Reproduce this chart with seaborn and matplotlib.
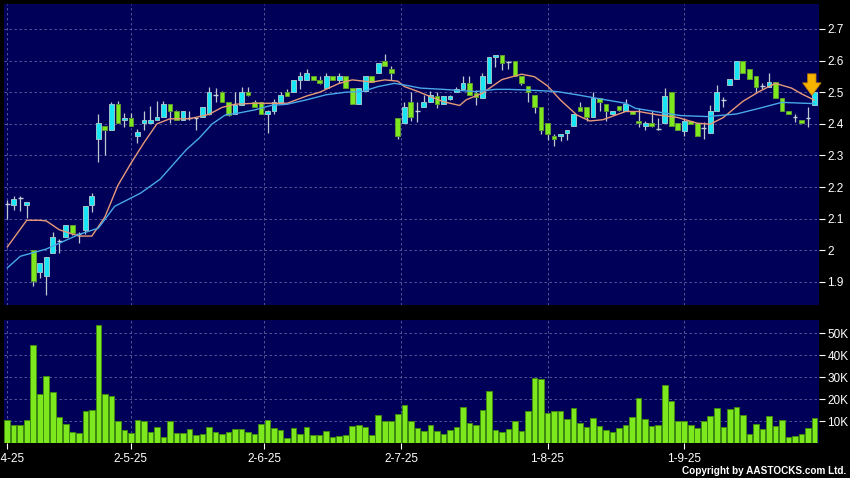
import numpy as np
import pandas as pd
import matplotlib
matplotlib.use("Agg")
import matplotlib.pyplot as plt
import seaborn as sns

# daily candles (index = trading day)
opens = [2.145, 2.142, 2.165, 2.142, 2.000, 1.930, 1.920, 1.991, 2.030, 2.041,
         2.081, 2.050, 2.065, 2.143, 2.352, 2.392, 2.381, 2.462, 2.412, 2.420,
         2.363, 2.402, 2.402, 2.412, 2.422, 2.462, 2.439, 2.412, 2.418, 2.420,
         2.422, 2.430, 2.490, 2.500, 2.470, 2.430, 2.460, 2.500, 2.468, 2.468,
         2.430, 2.439, 2.470, 2.500, 2.500, 2.540, 2.540, 2.550, 2.540, 2.513,
         2.550, 2.540, 2.550, 2.513, 2.462, 2.503, 2.550, 2.560, 2.600, 2.573,
         2.420, 2.402, 2.470, 2.439, 2.453, 2.470, 2.488, 2.463, 2.480, 2.500,
         2.510, 2.530, 2.497, 2.481, 2.530, 2.610, 2.619, 2.597, 2.600, 2.552,
         2.521, 2.492, 2.453, 2.402, 2.360, 2.360, 2.371, 2.394, 2.453, 2.453,
         2.421, 2.481, 2.463, 2.432, 2.455, 2.442, 2.442, 2.410, 2.394, 2.402,
         2.385, 2.402, 2.500, 2.402, 2.378, 2.409, 2.402, 2.388, 2.371, 2.439,
         2.475, 2.523, 2.541, 2.600, 2.573, 2.551, 2.520, 2.515, 2.531, 2.481,
         2.439, 2.423, 2.412, 2.417, 2.460]
highs = [2.160, 2.173, 2.173, 2.153, 2.000, 1.961, 1.980, 2.059, 2.035, 2.081,
         2.081, 2.059, 2.140, 2.182, 2.430, 2.392, 2.470, 2.473, 2.434, 2.434,
         2.383, 2.442, 2.455, 2.473, 2.473, 2.462, 2.445, 2.442, 2.439, 2.420,
         2.452, 2.516, 2.513, 2.505, 2.470, 2.502, 2.515, 2.515, 2.475, 2.468,
         2.445, 2.478, 2.500, 2.510, 2.540, 2.565, 2.573, 2.550, 2.550, 2.560,
         2.550, 2.560, 2.550, 2.513, 2.513, 2.550, 2.550, 2.592, 2.620, 2.584,
         2.420, 2.470, 2.502, 2.470, 2.490, 2.505, 2.500, 2.488, 2.490, 2.517,
         2.550, 2.550, 2.507, 2.562, 2.610, 2.619, 2.619, 2.600, 2.600, 2.552,
         2.521, 2.492, 2.453, 2.402, 2.367, 2.368, 2.381, 2.432, 2.470, 2.453,
         2.500, 2.481, 2.463, 2.442, 2.455, 2.480, 2.442, 2.450, 2.410, 2.440,
         2.420, 2.513, 2.500, 2.402, 2.420, 2.409, 2.402, 2.407, 2.460, 2.523,
         2.486, 2.541, 2.600, 2.600, 2.573, 2.551, 2.530, 2.560, 2.531, 2.481,
         2.439, 2.430, 2.412, 2.452, 2.500]
lows = [2.100, 2.128, 2.123, 2.102, 1.887, 1.913, 1.859, 1.991, 1.990, 2.041,
        2.047, 2.022, 2.050, 2.120, 2.280, 2.300, 2.381, 2.402, 2.390, 2.394,
        2.340, 2.380, 2.402, 2.412, 2.422, 2.402, 2.412, 2.412, 2.412, 2.379,
        2.422, 2.428, 2.470, 2.470, 2.425, 2.430, 2.460, 2.488, 2.454, 2.430,
        2.370, 2.430, 2.470, 2.489, 2.500, 2.510, 2.540, 2.540, 2.525, 2.513,
        2.540, 2.530, 2.513, 2.462, 2.462, 2.503, 2.532, 2.560, 2.584, 2.540,
        2.353, 2.402, 2.410, 2.407, 2.453, 2.470, 2.450, 2.463, 2.475, 2.500,
        2.510, 2.492, 2.460, 2.481, 2.530, 2.580, 2.571, 2.573, 2.552, 2.523,
        2.470, 2.435, 2.368, 2.350, 2.330, 2.345, 2.350, 2.394, 2.440, 2.410,
        2.421, 2.440, 2.410, 2.432, 2.442, 2.442, 2.430, 2.390, 2.380, 2.390,
        2.380, 2.402, 2.394, 2.380, 2.360, 2.400, 2.363, 2.351, 2.371, 2.439,
        2.454, 2.523, 2.541, 2.560, 2.541, 2.500, 2.510, 2.515, 2.481, 2.439,
        2.430, 2.407, 2.404, 2.391, 2.460]
closes = [2.145, 2.163, 2.165, 2.153, 1.904, 1.961, 1.980, 2.041, 2.030, 2.081,
          2.056, 2.050, 2.140, 2.172, 2.402, 2.380, 2.462, 2.402, 2.420, 2.394,
          2.373, 2.412, 2.412, 2.422, 2.462, 2.442, 2.412, 2.439, 2.418, 2.420,
          2.452, 2.500, 2.490, 2.470, 2.428, 2.460, 2.500, 2.490, 2.454, 2.430,
          2.439, 2.468, 2.490, 2.489, 2.540, 2.550, 2.560, 2.540, 2.529, 2.550,
          2.540, 2.550, 2.513, 2.462, 2.513, 2.550, 2.532, 2.592, 2.584, 2.560,
          2.363, 2.452, 2.422, 2.439, 2.470, 2.490, 2.463, 2.488, 2.488, 2.510,
          2.530, 2.492, 2.484, 2.550, 2.610, 2.619, 2.592, 2.597, 2.552, 2.530,
          2.500, 2.453, 2.381, 2.368, 2.352, 2.368, 2.381, 2.432, 2.442, 2.421,
          2.481, 2.470, 2.442, 2.442, 2.444, 2.462, 2.432, 2.402, 2.402, 2.394,
          2.385, 2.489, 2.394, 2.381, 2.409, 2.400, 2.363, 2.388, 2.439, 2.500,
          2.475, 2.541, 2.600, 2.560, 2.541, 2.516, 2.520, 2.531, 2.481, 2.439,
          2.430, 2.423, 2.404, 2.417, 2.500]

# volume in thousands
volume = [10.6, 8.3, 8.3, 10.5, 44.7, 22.1, 30.3, 23.3, 11.8, 8.6,
          5.0, 4.7, 14.5, 15.0, 53.8, 22.4, 21.6, 10.1, 6.0, 4.4,
          10.5, 9.8, 5.1, 7.1, 2.9, 9.8, 4.4, 4.4, 6.2, 3.6,
          4.2, 7.4, 5.0, 3.9, 5.1, 6.5, 6.5, 5.0, 4.2, 8.5,
          10.6, 6.8, 6.0, 2.4, 6.8, 4.2, 7.4, 3.8, 3.8, 5.6,
          2.9, 3.2, 3.8, 7.7, 8.0, 7.4, 3.6, 12.9, 10.0, 10.0,
          13.0, 17.4, 10.0, 6.7, 5.4, 8.0, 5.4, 3.9, 5.9, 7.4,
          16.5, 9.1, 8.0, 15.1, 23.8, 5.9, 5.1, 6.5, 10.0, 5.4,
          14.4, 29.4, 29.1, 13.8, 14.5, 14.5, 10.9, 15.9, 8.9, 7.1,
          11.2, 7.9, 5.9, 5.0, 6.7, 8.0, 11.7, 20.6, 11.0, 7.9,
          8.3, 26.2, 19.2, 9.8, 10.0, 8.0, 6.8, 9.8, 12.1, 15.9,
          7.1, 15.3, 16.6, 12.7, 3.9, 8.6, 6.2, 12.4, 7.9, 10.3,
          2.7, 3.0, 4.2, 6.8, 11.4]

# moving average lines
ma_short_x = [0, 3, 5, 6, 8, 11, 13, 15, 17, 19, 21, 23, 25, 28, 31, 33, 35, 38,
              43, 46, 48, 51, 53, 56, 58, 60, 61, 63, 65, 67, 69.5, 70.5, 73, 76,
              79, 81, 83, 85, 87.5, 89.5, 91.5, 95, 97, 100, 103, 106, 108, 110,
              113, 115.5, 118, 120.5, 122, 124]
ma_short = [2.01, 2.095, 2.095, 2.093, 2.065, 2.045, 2.045, 2.105, 2.205, 2.275,
            2.34, 2.40, 2.416, 2.416, 2.43, 2.452, 2.462, 2.465, 2.465, 2.488,
            2.50, 2.528, 2.539, 2.532, 2.539, 2.535, 2.518, 2.503, 2.486, 2.47,
            2.458, 2.476, 2.497, 2.54, 2.557, 2.549, 2.52, 2.475, 2.428, 2.409,
            2.413, 2.439, 2.439, 2.428, 2.42, 2.402, 2.399, 2.42, 2.471, 2.502,
            2.528, 2.513, 2.495, 2.475]
ma_long_x = [0, 2, 6, 11, 14, 16.5, 20.5, 23.5, 27.5, 29.5, 31.5, 33.5, 35.5, 38,
             40.5, 43, 46, 49, 52, 54.5, 57, 59.5, 61, 63.5, 67, 72, 75, 77, 80,
             84.5, 87.5, 90.5, 95, 96.5, 99.5, 103.5, 107.5, 112, 115.5, 119,
             122.5, 124]
ma_long = [1.944, 1.981, 2.004, 2.05, 2.07, 2.139, 2.181, 2.225, 2.318, 2.355,
           2.40, 2.428, 2.434, 2.444, 2.458, 2.462, 2.476, 2.492, 2.50, 2.502,
           2.518, 2.528, 2.523, 2.513, 2.509, 2.502, 2.509, 2.509, 2.507, 2.502,
           2.492, 2.481, 2.465, 2.449, 2.439, 2.426, 2.423, 2.431, 2.449, 2.468,
           2.465, 2.464]

date_ticks = [0, 19, 39.5, 60.5, 83, 104]
date_labels = ['1-4-25', '2-5-25', '2-6-25', '2-7-25', '1-8-25', '1-9-25']
price_ticks = [1.9, 2.0, 2.1, 2.2, 2.3, 2.4, 2.5, 2.6, 2.7]
price_labels = ['1.9', '2', '2.1', '2.2', '2.3', '2.4', '2.5', '2.6', '2.7']
vol_ticks = [10, 20, 30, 40, 50]
vol_labels = ['10K', '20K', '30K', '40K', '50K']

df = pd.DataFrame({'open': opens, 'high': highs, 'low': lows,
                   'close': closes, 'volume': volume})
df['idx'] = np.arange(len(df))

sns.set_theme(style='dark')
plt.rcParams['font.family'] = ['Liberation Sans', 'DejaVu Sans']

BG = '#000058'
GRID = '#5E64A0'
UP = '#19E6F5'
DOWN = '#7EE81E'
XLIM = (-0.49, 124.7)

fig = plt.figure(figsize=(8.5, 4.78), dpi=100, facecolor='black')
ax = fig.add_axes([4 / 850, 1 - 305 / 478, 815 / 850, 301 / 478])
axv = fig.add_axes([4 / 850, 1 - 443 / 478, 815 / 850, 123 / 478])

for a in (ax, axv):
    a.set_facecolor(BG)
    for s in a.spines.values():
        s.set_visible(False)

# candles
up = df[df['close'] > df['open']]
down = df[df['close'] < df['open']]
doji = df[df['close'] == df['open']]

ax.vlines(df['idx'], df['low'], df['high'], color='#C0C8D0', lw=0.9, zorder=2)
ax.bar(up['idx'], up['close'] - up['open'], bottom=up['open'], width=0.72,
       color=UP, edgecolor='#9CC4CC', lw=0.7, zorder=3)
ax.bar(down['idx'], down['open'] - down['close'], bottom=down['close'], width=0.72,
       color=DOWN, edgecolor='#5E9A30', lw=0.7, zorder=3)
ax.hlines(doji['close'], doji['idx'] - 0.36, doji['idx'] + 0.36,
          color='#C8D0D8', lw=1.0, zorder=3)

sns.lineplot(x=ma_short_x, y=ma_short, ax=ax, color='#E89A78', lw=1.0, zorder=4)
sns.lineplot(x=ma_long_x, y=ma_long, ax=ax, color='#48A8E8', lw=1.0, zorder=4)

ax.annotate('', xy=(123.6, 2.49), xytext=(123.6, 2.558),
            arrowprops=dict(arrowstyle='simple,head_width=1.1,head_length=0.75,tail_width=0.5',
                            fc='#F6B400', ec='#C88000', lw=0.6, mutation_scale=12,
                            shrinkA=0, shrinkB=0),
            zorder=6)

ax.set_xlim(*XLIM)
ax.set_ylim(1.827, 2.779)
ax.set_xticks(date_ticks)
ax.set_xticklabels([])
ax.set_yticks(price_ticks)
ax.set_yticklabels(price_labels)
ax.set_xlabel('')
ax.set_ylabel('')

# volume
sns.barplot(data=df, x='idx', y='volume', ax=axv, color=DOWN, width=0.86,
            edgecolor='#3E8A10', linewidth=0.7, saturation=1, zorder=3)
axv.set_xlim(*XLIM)
axv.set_ylim(0, 56)
axv.set_xticks(date_ticks)
axv.set_xticklabels(date_labels)
axv.set_yticks(vol_ticks)
axv.set_yticklabels(vol_labels)
axv.set_xlabel('')
axv.set_ylabel('')

for a in (ax, axv):
    a.grid(True, color=GRID, lw=0.6, ls=(0, (3, 3)), zorder=0)
    a.set_axisbelow(True)
    a.yaxis.tick_right()
    a.tick_params(axis='y', colors='white', labelcolor='white', labelsize=8.5,
                  length=4, width=0.8, direction='out', pad=2, left=False, right=True)
    a.tick_params(axis='x', colors='white', labelcolor='white', labelsize=8.5,
                  length=4, width=0.8, direction='out', pad=3, bottom=True)
ax.tick_params(axis='x', bottom=False)

fig.text(0.995, 0.0146, 'Copyright by AASTOCKS.com Ltd.', color='white',
         fontsize=7.2, fontweight='bold', ha='right', va='center')

fig.savefig('out.png', dpi=100, facecolor='black')
